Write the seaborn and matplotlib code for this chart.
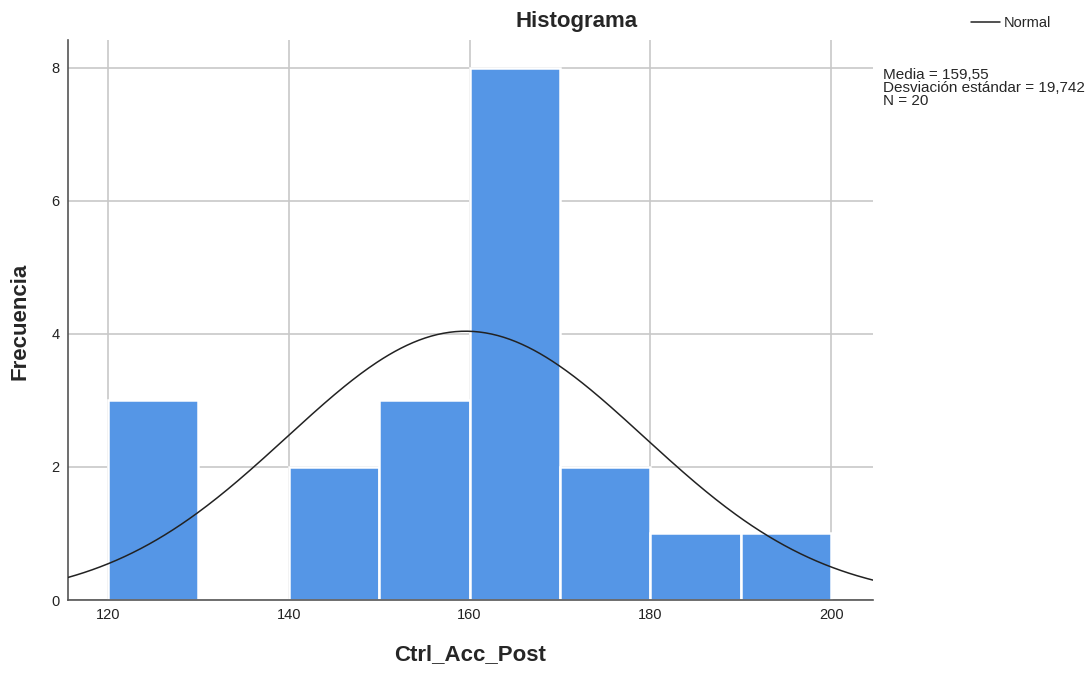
import numpy as np
import pandas as pd
import matplotlib
matplotlib.use("Agg")
import matplotlib.pyplot as plt
import seaborn as sns

# Data
bin_edges = [120, 130, 140, 150, 160, 170, 180, 190, 200]
bin_counts = [3, 0, 2, 3, 8, 2, 1, 1]
mean_val = 159.55
sd_val = 19.742
n_val = 20
x_ticks = [120, 140, 160, 180, 200]
y_ticks = [0, 2, 4, 6, 8]

sns.set_style("white")
plt.rcParams['font.family'] = ['Liberation Sans', 'DejaVu Sans']

fig = plt.figure(figsize=(10.92, 6.75), dpi=100)
ax = fig.add_axes([68/1092, 1-600/675, (873-68)/1092, (600-40)/675])

centers = [(bin_edges[i] + bin_edges[i+1]) / 2 for i in range(len(bin_counts))]
df = pd.DataFrame({"x": centers, "w": bin_counts})
sns.histplot(data=df, x="x", weights="w", bins=bin_edges, color="#5596E6",
             edgecolor="white", linewidth=1.8, alpha=1, ax=ax, zorder=2)

xs = np.linspace(115.6, 204.6, 400)
binw = bin_edges[1] - bin_edges[0]
ys = n_val * binw * np.exp(-0.5 * ((xs - mean_val) / sd_val) ** 2) / (sd_val * np.sqrt(2 * np.pi))
sns.lineplot(x=xs, y=ys, color="#222222", linewidth=1.1, ax=ax, zorder=3, label="Normal")

ax.set_xlim(115.6, 204.6)
ax.set_ylim(0, 8.42)
ax.set_xticks(x_ticks)
ax.set_yticks(y_ticks)
ax.tick_params(axis='both', labelsize=10.5, length=0, pad=6, colors="#222222")
ax.grid(True, color="#c8c8c8", linewidth=1.2, zorder=0)
ax.set_axisbelow(True)
for s in ["top", "right"]:
    ax.spines[s].set_visible(False)
for s in ["left", "bottom"]:
    ax.spines[s].set_color("#555555")
    ax.spines[s].set_linewidth(1.2)

ax.set_xlabel("Ctrl_Acc_Post", fontsize=16, fontweight="bold", labelpad=16)
ax.set_ylabel("")
fig.text(20/1092, 1-321/675, "Frecuencia", fontsize=16, fontweight="bold",
         rotation=90, ha="center", va="center")
fig.text(577/1092, 1-22/675, "Histograma", fontsize=16, fontweight="bold",
         ha="center", va="center")

leg = ax.legend(loc="upper left", bbox_to_anchor=(964/1092, 1-9/675),
                bbox_transform=fig.transFigure, frameon=False, fontsize=10.5,
                handlelength=2.0, handletextpad=0.2, borderpad=0)

fig.text(883/1092, 1-68/675,
         "Media = 159,55\nDesviación estándar = 19,742\nN = 20",
         fontsize=11, ha="left", va="top", linespacing=0.9)

fig.savefig("out.png", dpi=100)
